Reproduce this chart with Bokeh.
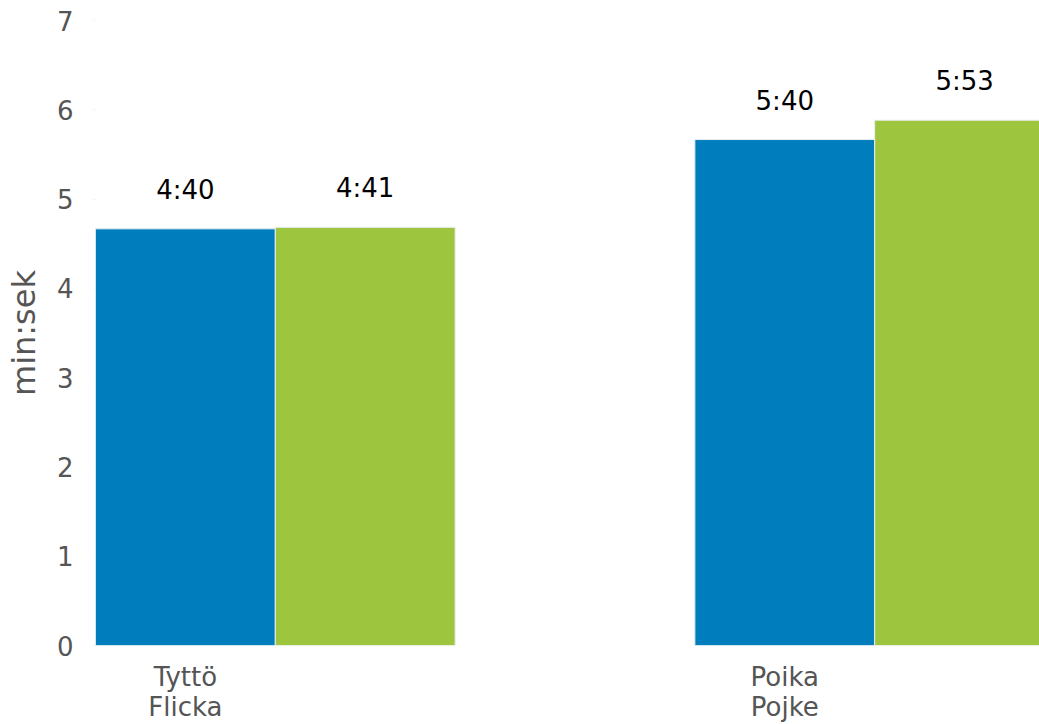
from bokeh.plotting import figure
from bokeh.models import ColumnDataSource, FixedTicker, Range1d
from bokeh.embed import file_html
from bokeh.resources import INLINE
from bokeh.core.properties import value

groups = ["Tyttö\nFlicka", "Poika\nPojke"]
series_a = [4 + 40/60, 5 + 40/60]   # blue
series_b = [4 + 41/60, 5 + 53/60]   # green
labels_a = ["4:40", "5:40"]
labels_b = ["4:41", "5:53"]
y_ticks = [0, 1, 2, 3, 4, 5, 6, 7]

BLUE = "#007dbc"
GREEN = "#9dc53e"
GREY = "#555555"
FONT = "DejaVu Sans"
bw = 0.3

xs = list(range(len(groups)))
src_a = ColumnDataSource(dict(x=[i for i in xs], top=series_a, lab=labels_a))
src_b = ColumnDataSource(dict(x=[i + bw for i in xs], top=series_b, lab=labels_b))

p = figure(width=1039, height=724, output_backend="svg", toolbar_location=None,
           x_range=Range1d(-bw / 2, 1.425), y_range=Range1d(0, 7),
           min_border_left=95, min_border_right=0, min_border_top=20, min_border_bottom=20)
p.outline_line_color = None
p.xgrid.grid_line_color = None
p.ygrid.grid_line_color = None

p.vbar(x="x", top="top", bottom=0, width=bw, source=src_a, fill_color=BLUE, line_color="#e8eef2", line_width=1)
p.vbar(x="x", top="top", bottom=0, width=bw, source=src_b, fill_color=GREEN, line_color="#e8eef2", line_width=1)

for s in (src_a, src_b):
    p.text(x="x", y="top", text="lab", source=s, text_align="center", text_baseline="alphabetic",
           y_offset=-39, text_font=value(FONT), text_font_size="26px", text_color="black")

p.yaxis.ticker = FixedTicker(ticks=y_ticks)
p.yaxis.axis_line_color = None
p.yaxis.major_tick_line_color = "#eeeeee"
p.yaxis.major_tick_out = 2
p.yaxis.major_tick_in = 0
p.yaxis.minor_tick_line_color = None
p.yaxis.major_label_standoff = 20
p.yaxis.major_label_text_font = FONT
p.yaxis.major_label_text_font_size = "26px"
p.yaxis.major_label_text_color = GREY
p.yaxis.axis_label = "min:sek"
p.yaxis.axis_label_text_font = FONT
p.yaxis.axis_label_text_font_size = "32px"
p.yaxis.axis_label_text_font_style = "normal"
p.yaxis.axis_label_text_color = GREY
p.yaxis.axis_label_standoff = 11

p.xaxis.ticker = FixedTicker(ticks=xs)
p.xaxis.major_label_overrides = {i: g for i, g in zip(xs, groups)}
p.xaxis.axis_line_color = None
p.xaxis.major_tick_line_color = None
p.xaxis.minor_tick_line_color = None
p.xaxis.major_label_standoff = 10
p.xaxis.major_label_text_font = FONT
p.xaxis.major_label_text_font_size = "26px"
p.xaxis.major_label_text_color = GREY
p.xaxis.major_label_text_line_height = 1.0

open("out.html", "w").write(file_html(p, INLINE))
